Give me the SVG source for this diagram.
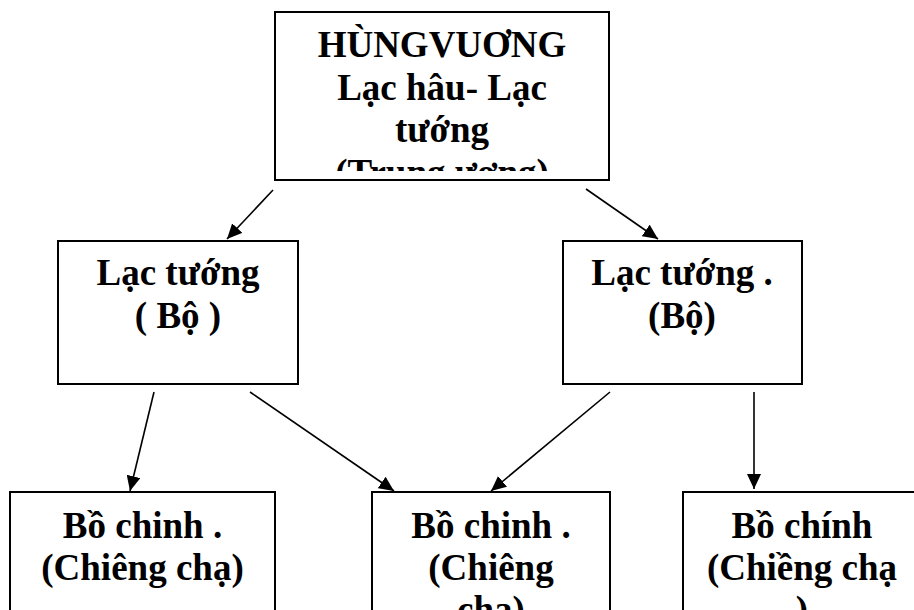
<svg xmlns="http://www.w3.org/2000/svg" width="914" height="610" viewBox="0 0 914 610">
  <style>
    .box { fill: #fff; stroke: #000; stroke-width: 2; }
    .lbl { font-family: "Liberation Serif", "Times New Roman", serif; font-weight: bold; font-size: 37px; fill: #000; text-anchor: middle; }
    .edge { stroke: #000; stroke-width: 1.6; fill: none; marker-end: url(#head); }
  </style>
  <defs>
    <marker id="head" markerUnits="userSpaceOnUse" markerWidth="16" markerHeight="14" refX="15" refY="7" orient="auto">
      <path d="M0,0 L15,7 L0,14 Z" fill="#000"/>
    </marker>
    <clipPath id="clipTop">
      <rect x="277" y="14" width="330" height="157"/>
    </clipPath>
  </defs>

  <rect width="914" height="610" fill="#fff"/>

  <g id="connectors">
    <line class="edge" x1="273" y1="190" x2="227" y2="239"/>
    <line class="edge" x1="586" y1="189" x2="658" y2="239"/>
    <line class="edge" x1="154" y1="392" x2="130" y2="491"/>
    <line class="edge" x1="250" y1="392" x2="394" y2="491"/>
    <line class="edge" x1="610" y1="392" x2="491" y2="491"/>
    <line class="edge" x1="754" y1="392" x2="754" y2="489"/>
  </g>

  <g id="hungvuong">
    <rect class="box" x="275" y="12" width="334" height="168"/>
    <g clip-path="url(#clipTop)">
      <text class="lbl" x="442" y="57">HÙNGVUƠNG</text>
      <text class="lbl" x="442" y="99.5">Lạc hâu- Lạc</text>
      <text class="lbl" x="442" y="142">tướng</text>
      <text class="lbl" x="442" y="184.5">(Trung ương)</text>
    </g>
  </g>

  <g id="lactuong-left">
    <rect class="box" x="58" y="241" width="240" height="143"/>
    <text class="lbl" x="178" y="285">Lạc tướng</text>
    <text class="lbl" x="178" y="328">( Bộ )</text>
  </g>

  <g id="lactuong-right">
    <rect class="box" x="563" y="241" width="239" height="143"/>
    <text class="lbl" x="682" y="285">Lạc tướng .</text>
    <text class="lbl" x="682" y="328">(Bộ)</text>
  </g>

  <g id="bochinh-left">
    <rect class="box" x="10" y="492" width="265" height="130"/>
    <text class="lbl" x="142.5" y="538">Bồ chinh .</text>
    <text class="lbl" x="142.5" y="580">(Chiêng chạ)</text>
  </g>

  <g id="bochinh-middle">
    <rect class="box" x="372" y="492" width="238" height="130"/>
    <text class="lbl" x="491" y="538">Bồ chinh .</text>
    <text class="lbl" x="491" y="580">(Chiêng</text>
    <text class="lbl" x="491" y="622">chạ)</text>
  </g>

  <g id="bochinh-right">
    <rect class="box" x="683" y="492" width="240" height="130"/>
    <text class="lbl" x="802" y="538">Bồ chính</text>
    <text class="lbl" x="802" y="580">(Chiềng chạ</text>
    <text class="lbl" x="802" y="622">)</text>
  </g>
</svg>
